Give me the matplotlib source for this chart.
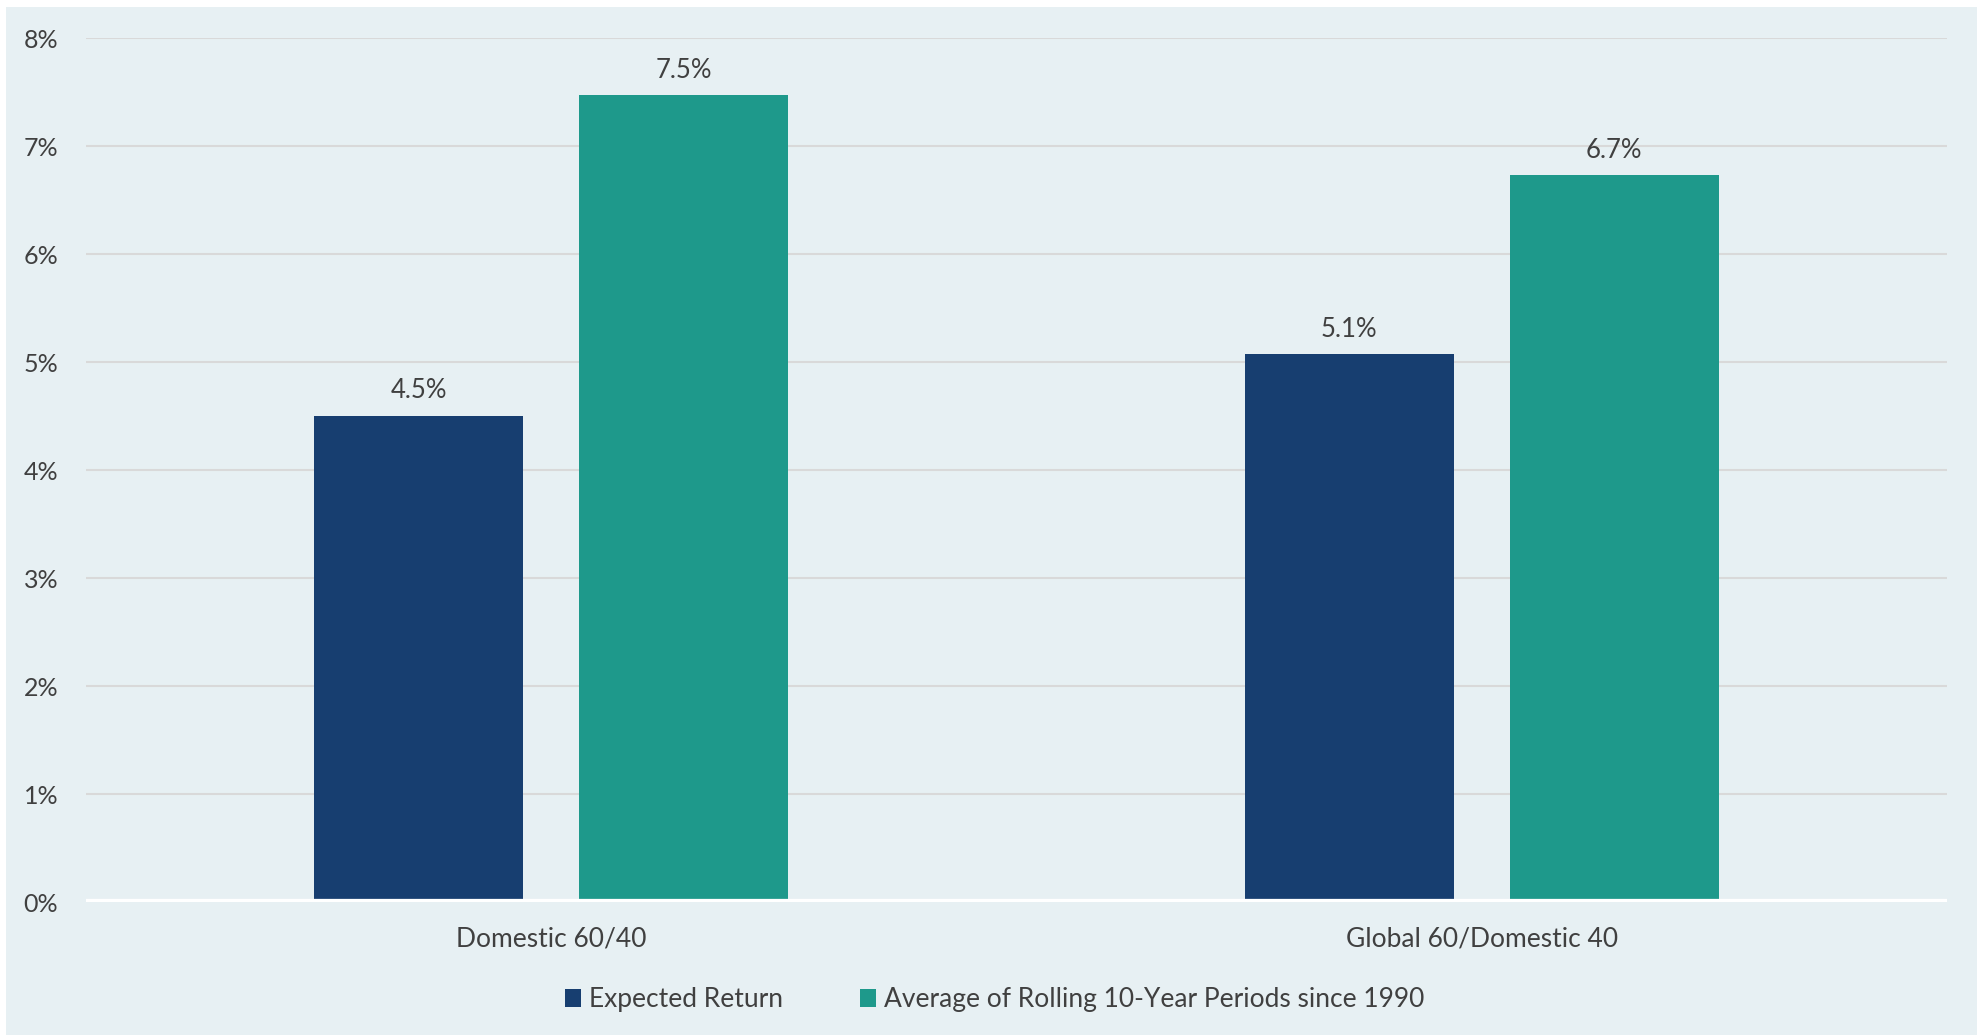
import numpy as np
import matplotlib.pyplot as plt
from matplotlib.patches import Rectangle, Patch

categories = ["Domestic 60/40", "Global 60/Domestic 40"]
series_names = ["Expected Return", "Average of Rolling 10-Year Periods since 1990"]
expected_return = [4.5, 5.07]
rolling_avg = [7.47, 6.73]
value_labels = [["4.5%", "5.1%"], ["7.5%", "6.7%"]]
y_ticks = [0, 1, 2, 3, 4, 5, 6, 7, 8]

navy = "#173E70"
teal = "#1E998B"
panel = "#E7F0F3"
text_col = "#404040"

plt.rcParams['font.family'] = ['Lato', 'DejaVu Sans']

fig = plt.figure(figsize=(19.81, 10.36), dpi=100)
fig.patch.set_facecolor("white")
bg = Rectangle((6 / 1981, 1 / 1036), 1971 / 1981, 1028 / 1036,
               transform=fig.transFigure, facecolor=panel,
               edgecolor="none", zorder=-10)
fig.add_artist(bg)

ax = fig.add_axes([86 / 1981, 134 / 1036, 1861 / 1981, 864 / 1036])
ax.set_facecolor("none")

x = np.arange(len(categories))
w = 0.2246
off = 0.1424
series = [expected_return, rolling_avg]
colors = [navy, teal]
for i, (vals, col) in enumerate(zip(series, colors)):
    pos = x + (off if i else -off)
    ax.bar(pos, vals, width=w, color=col, zorder=2)
    for xp, v, lab in zip(pos, vals, value_labels[i]):
        ax.annotate(lab, (xp, v), xytext=(0, 9), textcoords="offset points",
                    ha="center", va="bottom", fontsize=18.5, color=text_col)

ax.set_xlim(-0.5, 1.5)
ax.set_ylim(0, 8)
ax.set_yticks(y_ticks)
ax.set_yticklabels([f"{t}%" for t in y_ticks])
ax.set_xticks(x)
ax.set_xticklabels(categories)
ax.tick_params(axis="both", length=0, labelcolor=text_col)
ax.tick_params(axis="y", pad=20, labelsize=18)
ax.tick_params(axis="x", pad=18, labelsize=19)

ax.yaxis.grid(True, color="#D9D9D9", linewidth=1.5, zorder=1)
ax.set_axisbelow(True)
for s in ax.spines.values():
    s.set_visible(False)
ax.axhline(0, color="white", linewidth=4.5, zorder=3)

handles = [Patch(facecolor=c, edgecolor="none") for c in colors]
fig.legend(handles, series_names, loc="center", bbox_to_anchor=(0.502, 0.035),
           ncol=2, frameon=False, fontsize=19, labelcolor=text_col,
           handlelength=0.62, handleheight=0.62, handletextpad=0.3,
           columnspacing=2.9)

fig.savefig("out.png", dpi=100, facecolor="white")
